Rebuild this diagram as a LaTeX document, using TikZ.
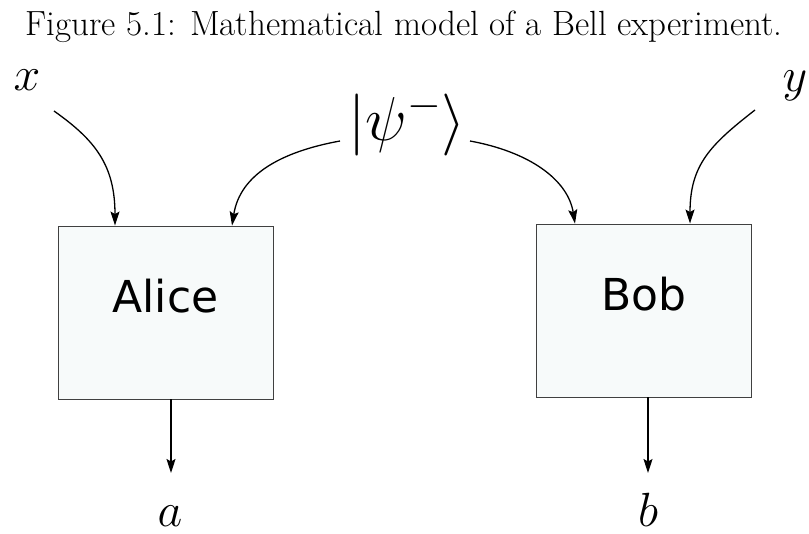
\documentclass[tikz,border=0pt]{standalone}
\usepackage{fix-cm}
\usepackage{fontspec}
\newfontfamily\boxfont{DejaVu Sans}
\usetikzlibrary{arrows.meta}
\definecolor{boxfill}{HTML}{F7FAFA}
\tikzset{
  agent/.style={draw=black!75, fill=boxfill, line width=0.9pt, minimum width=215pt, minimum height=173pt, inner sep=0pt, text height=32pt, text depth=32pt, font=\boxfont\fontsize{44}{50}\selectfont},
  conn/.style={line width=1.3pt, -{Stealth[length=14pt,width=9pt,inset=2.5pt]}},
  lbl/.style={inner sep=0pt, font=\fontsize{48}{56}\selectfont},
}
\begin{document}
\begin{tikzpicture}[x=1pt,y=-1pt]
\useasboundingbox (0,0) rectangle (809,534);
\node[inner sep=0pt, anchor=base, font=\fontsize{35}{40}\selectfont] (title) at (404,36) {Figure 5.1: Mathematical model of a Bell experiment.};
\node[lbl] (x) at (27,80) {$x$};
\node[lbl] (y) at (795,86) {$y$};
\node[lbl, font=\fontsize{62}{70}\selectfont] (psi) at (407,124) {$\bigl|\psi^-\bigr\rangle$};
\node[agent] (alice) at (165.5,312.5) {Alice};
\node[agent] (bob) at (644,310.5) {Bob};
\node[lbl, anchor=base] (a) at (170,526) {$a$};
\node[lbl, anchor=base] (b) at (648,526) {$b$};
\coordinate (xs) at (54,111);
\coordinate (ys) at (755,110);
\coordinate (pl) at (340,141);
\coordinate (pr) at (470,141);
\draw[conn] (xs) .. controls (95,140) and (115,165) .. (alice.north west -| 115,0);
\draw[conn] (pl) .. controls (280,152) and (240,175) .. (alice.north west -| 232,0);
\draw[conn] (pr) .. controls (530,152) and (568,180) .. (bob.north west -| 575,0);
\draw[conn] (ys) .. controls (710,145) and (690,165) .. (bob.north west -| 690,0);
\draw[conn] (alice.south west -| 171,0) -- (171,473);
\draw[conn] (bob.south west -| 648,0) -- (648,473);
\end{tikzpicture}
\end{document}
